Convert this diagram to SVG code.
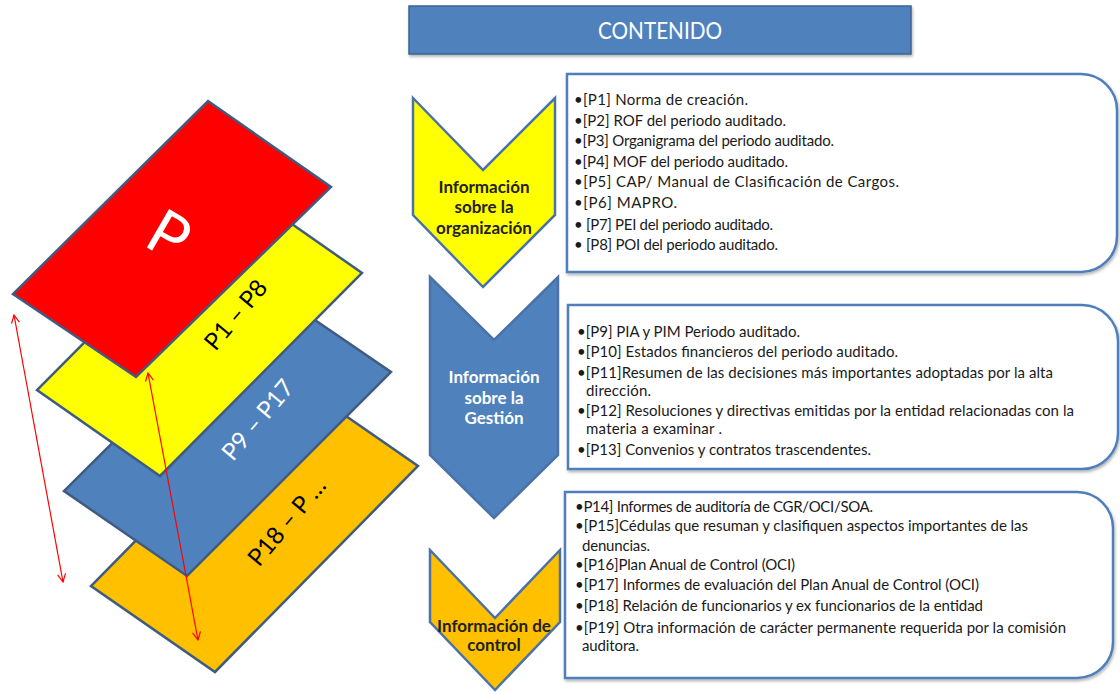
<svg xmlns="http://www.w3.org/2000/svg" width="1120" height="694" viewBox="0 0 1120 694">
<defs>
<style>
.pg{stroke:#3F5C80;stroke-width:2.5;stroke-linejoin:miter}
.chev{stroke:#4A72A8;stroke-width:2.5;stroke-linejoin:miter}
.box{fill:#fff;stroke:#4F7FBA;stroke-width:2.5}
.bt{font-family:Lato,"Liberation Sans",sans-serif;font-size:15px;fill:#1a1a1a}
.cl{font-family:Lato,"Liberation Sans",sans-serif;font-size:17px;font-weight:bold;text-anchor:middle}
.pl{font-family:Lato,"Liberation Sans",sans-serif;font-size:24px;text-anchor:middle}
.arr{stroke:#FF0000;stroke-width:1.2;fill:none}
</style>
<marker id="ah" viewBox="0 0 10 10" refX="9" refY="5" markerWidth="10" markerHeight="10" markerUnits="userSpaceOnUse" orient="auto-start-reverse">
<path d="M1,1 L9,5 L1,9" fill="none" stroke="#FF0000" stroke-width="1.2"/>
</marker>
<filter id="sh" x="-5%" y="-5%" width="110%" height="120%">
<feDropShadow dx="1" dy="2" stdDeviation="1.5" flood-color="#000" flood-opacity="0.3"/>
</filter>
</defs>
<rect width="1120" height="694" fill="#fff"/>

<g id="layer-orange">
<path class="pg" d="M294,380 L418,466 L215,672 L91,586 Z" fill="#FFC000"/>
<text class="pl" transform="translate(287,522) rotate(-50)" fill="#000" dy="8">P18 – P …</text>
</g>
<g id="layer-blue">
<path class="pg" d="M268,288 L391,372 L187,576 L64,491 Z" fill="#4F81BD"/>
<text class="pl" transform="translate(258,420) rotate(-50)" fill="#fff" dy="8">P9 – P17</text>
</g>
<g id="layer-yellow">
<path class="pg" d="M239,187 L362,273 L160,476 L37,390 Z" fill="#FFFF00"/>
<text class="pl" transform="translate(236,315) rotate(-50)" fill="#000" dy="8">P1 – P8</text>
</g>
<g id="layer-red">
<path class="pg" d="M208,101 L331,187 L136,377 L13,294 Z" fill="#FF0000"/>
<text class="pl" transform="translate(169,235) rotate(30)" fill="#fff" style="font-size:62px;font-weight:400" dy="22">P</text>
</g>

<g id="connectors">
<line class="arr" x1="14" y1="315" x2="63" y2="582" marker-start="url(#ah)" marker-end="url(#ah)"/>
<line class="arr" x1="148" y1="373" x2="198" y2="640" marker-start="url(#ah)" marker-end="url(#ah)"/>
</g>

<g id="header">
<rect x="409" y="6" width="502" height="48" fill="#4F81BD" stroke="#3A6496" stroke-width="1.5" filter="url(#sh)"/>
<text x="660" y="39" text-anchor="middle" font-family="Lato,'Liberation Sans',sans-serif" font-size="24" fill="#fff" textLength="124" lengthAdjust="spacingAndGlyphs">CONTENIDO</text>
</g>

<g id="chevron-organizacion">
<path class="chev" d="M413,98 L483,170 L555,98 L555,215 L483,287 L413,215 Z" fill="#FFFF00"/>
<text class="cl" fill="#222"><tspan x="484" y="193">Información</tspan><tspan x="484" y="213">sobre la</tspan><tspan x="484" y="234">organización</tspan></text>
</g>
<g id="chevron-gestion">
<path class="chev" d="M430,277 L494,340 L558,277 L558,455 L494,518 L430,455 Z" fill="#4F81BD"/>
<text class="cl" fill="#fff"><tspan x="494" y="383">Información</tspan><tspan x="494" y="404">sobre la</tspan><tspan x="494" y="424">Gestión</tspan></text>
</g>
<g id="chevron-control">
<path class="chev" d="M430,550 L495,618 L560,550 L560,622 L495,690 L430,622 Z" fill="#FFC000"/>
<text class="cl" fill="#222"><tspan x="494" y="632">Información de</tspan><tspan x="494" y="651">control</tspan></text>
</g>

<g id="box-organizacion">
<path class="box" filter="url(#sh)" d="M567,74 H1081 A36,36 0 0 1 1117,110 V236 A36,36 0 0 1 1081,272 H567 Z"/>
<text class="bt" x="574" y="105" textLength="174" lengthAdjust="spacing">•[P1] Norma de creación.</text>
<text class="bt" x="574" y="126" textLength="212" lengthAdjust="spacing">•[P2] ROF del periodo auditado.</text>
<text class="bt" x="574" y="146" textLength="260" lengthAdjust="spacing">•[P3] Organigrama del periodo auditado.</text>
<text class="bt" x="574" y="167" textLength="214" lengthAdjust="spacing">•[P4] MOF del periodo auditado.</text>
<text class="bt" x="574" y="187" textLength="325" lengthAdjust="spacing">•[P5] CAP/ Manual de Clasificación de Cargos.</text>
<text class="bt" x="574" y="208" textLength="103" lengthAdjust="spacing">•[P6] MAPRO.</text>
<text class="bt" x="574" y="230" textLength="199" lengthAdjust="spacing">• [P7] PEI del periodo auditado.</text>
<text class="bt" x="574" y="250" textLength="204" lengthAdjust="spacing">• [P8] POI del periodo auditado.</text>
</g>

<g id="box-gestion">
<path class="box" filter="url(#sh)" d="M568,305 H1082 A36,36 0 0 1 1118,341 V432 A36,36 0 0 1 1082,469 H568 Z"/>
<text class="bt" x="577" y="337" textLength="223" lengthAdjust="spacing">•[P9] PIA y PIM Periodo auditado.</text>
<text class="bt" x="577" y="357" textLength="321" lengthAdjust="spacing">•[P10] Estados financieros del periodo auditado.</text>
<text class="bt" x="577" y="378" textLength="476" lengthAdjust="spacing">•[P11]Resumen de las decisiones más importantes adoptadas por la alta</text>
<text class="bt" x="586" y="396" textLength="65" lengthAdjust="spacing">dirección.</text>
<text class="bt" x="577" y="416" textLength="497" lengthAdjust="spacing">•[P12] Resoluciones y directivas emitidas por la entidad relacionadas con la</text>
<text class="bt" x="586" y="434" textLength="136" lengthAdjust="spacing">materia a examinar .</text>
<text class="bt" x="577" y="455" textLength="294" lengthAdjust="spacing">•[P13] Convenios y contratos trascendentes.</text>
</g>

<g id="box-control">
<path class="box" filter="url(#sh)" d="M565,492 H1077 A36,36 0 0 1 1113,528 V642 A36,36 0 0 1 1077,678 H565 Z"/>
<text class="bt" x="575" y="512" textLength="298" lengthAdjust="spacing">•P14] Informes de auditoría de CGR/OCI/SOA.</text>
<text class="bt" x="575" y="531" textLength="453" lengthAdjust="spacing">•[P15]Cédulas que resuman y clasifiquen aspectos importantes de las</text>
<text class="bt" x="582" y="551" textLength="68" lengthAdjust="spacing">denuncias.</text>
<text class="bt" x="575" y="570" textLength="220" lengthAdjust="spacing">•[P16]Plan Anual de Control (OCI)</text>
<text class="bt" x="575" y="590" textLength="404" lengthAdjust="spacing">•[P17] Informes de evaluación del Plan Anual de Control (OCI)</text>
<text class="bt" x="575" y="611" textLength="408" lengthAdjust="spacing">•[P18] Relación de funcionarios y ex funcionarios de la entidad</text>
<text class="bt" x="575" y="633" textLength="491" lengthAdjust="spacing">•[P19] Otra información de carácter permanente requerida por la comisión</text>
<text class="bt" x="582" y="651" textLength="57" lengthAdjust="spacing">auditora.</text>
</g>
</svg>
